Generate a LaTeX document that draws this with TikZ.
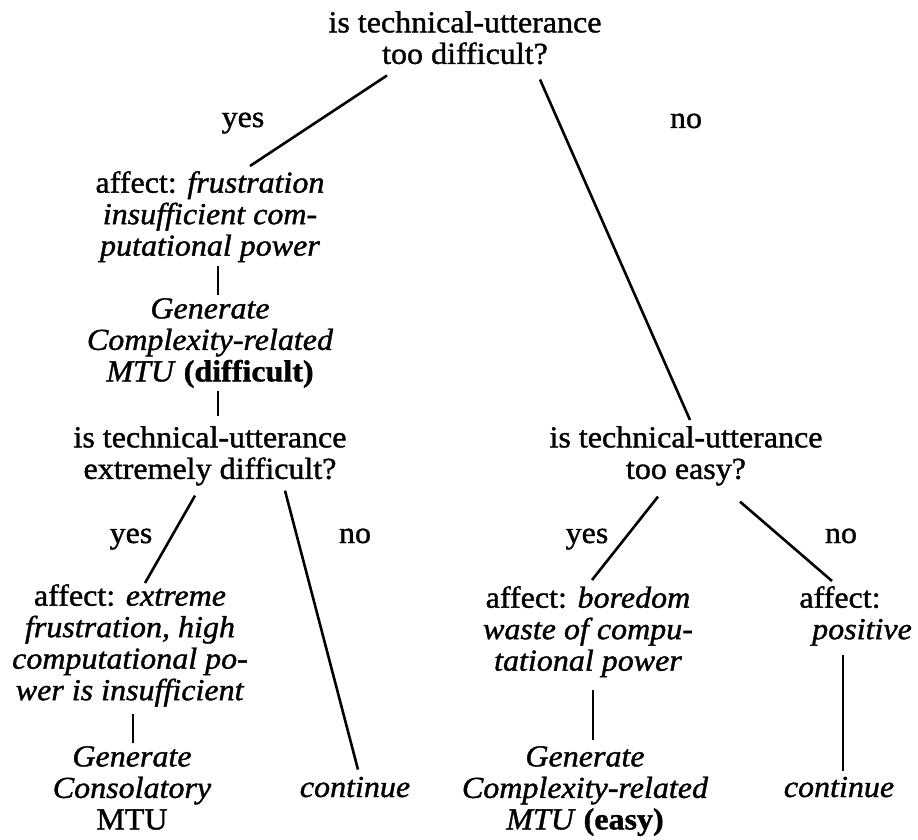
\documentclass[tikz,border=0pt]{standalone}
\usepackage{fontspec}
\setmainfont{Liberation Serif}[FakeStretch=1.05, FakeBold=1.2]
\usetikzlibrary{positioning}

\begin{document}
\begin{tikzpicture}[x=1pt, y=-1pt, font=\fontsize{30.5}{31.5}\selectfont,
  txt/.style={inner sep=0pt, align=center, anchor=north},
  lbl/.style={inner sep=0pt, anchor=base},
  branch/.style={line width=2.6pt}]
  \useasboundingbox (0,0) rectangle (918,840);

  % questions and outcomes
  \node[txt] (root) at (465,11) {is technical-utterance\\too difficult?};
  \node[txt] (frust) at (210,171) {affect: \textit{frustration}\\\textit{insufficient com-}\\\textit{putational power}};
  \node[txt] (genHard) at (210,298) {\textit{Generate}\\\textit{Complexity-related}\\\textit{MTU} \textbf{(difficult)}};
  \node[txt] (qHard) at (210,426) {is technical-utterance\\extremely difficult?};
  \node[txt] (frustX) at (130,584) {affect: \textit{extreme}\\\textit{frustration, high}\\\textit{computational po-}\\\textit{wer is insufficient}};
  \node[txt] (genConsol) at (132,746) {\textit{Generate}\\\textit{Consolatory}\\MTU};
  \node[lbl] (contHard) at (355,797) {\textit{continue}};
  \node[txt] (qEasy) at (686,426) {is technical-utterance\\too easy?};
  \node[txt] (bored) at (588,586) {affect: \textit{boredom}\\\textit{waste of compu-}\\\textit{tational power}};
  \node[txt] (genEasy) at (585,746) {\textit{Generate}\\\textit{Complexity-related}\\\textit{MTU} \textbf{(easy)}};
  \node[txt] (pos) at (862,586) {affect:\hspace*{44pt}\\\textit{positive}};
  \node[lbl] (contEasy) at (839,797) {\textit{continue}};

  % branch labels
  \foreach \x/\y/\t/\n in {243/127/yes/yesA, 686/128/no/noA, 131/543/yes/yesB,
                           355/543/no/noB, 587/543/yes/yesC, 841/543/no/noC}
    \node[lbl] (\n) at (\x,\y) {\t};

  % branches
  \draw[branch] ([shift={(-78,11)}]root.south) -- ([shift={(40,-5)}]frust.north);
  \draw[branch] ([shift={(75,15)}]root.south) -- ([shift={(4,-6)}]qEasy.north);
  \draw[branch] ([shift={(8,4)}]frust.south) -- ([shift={(8,-3)}]genHard.north);
  \draw[branch] ([shift={(8,3)}]genHard.south) -- ([shift={(8,-10)}]qHard.north);
  \draw[branch] ([shift={(-15,10)}]qHard.south) -- ([shift={(15,-1)}]frustX.north);
  \draw[branch] ([shift={(75,5)}]qHard.south) -- ([shift={(3,-7)}]contHard.north);
  \draw[branch] ([shift={(3,7)}]frustX.south) -- ([shift={(1,-3)}]genConsol.north);
  \draw[branch] ([shift={(-28,11)}]qEasy.south) -- ([shift={(4,-6)}]bored.north);
  \draw[branch] ([shift={(54,16)}]qEasy.south) -- ([shift={(-30,-5)}]pos.north);
  \draw[branch] ([shift={(5,13)}]bored.south) -- ([shift={(8,-6)}]genEasy.north);
  \draw[branch] ([shift={(-19,9)}]pos.south) -- ([shift={(4,-6)}]contEasy.north);
\end{tikzpicture}
\end{document}
